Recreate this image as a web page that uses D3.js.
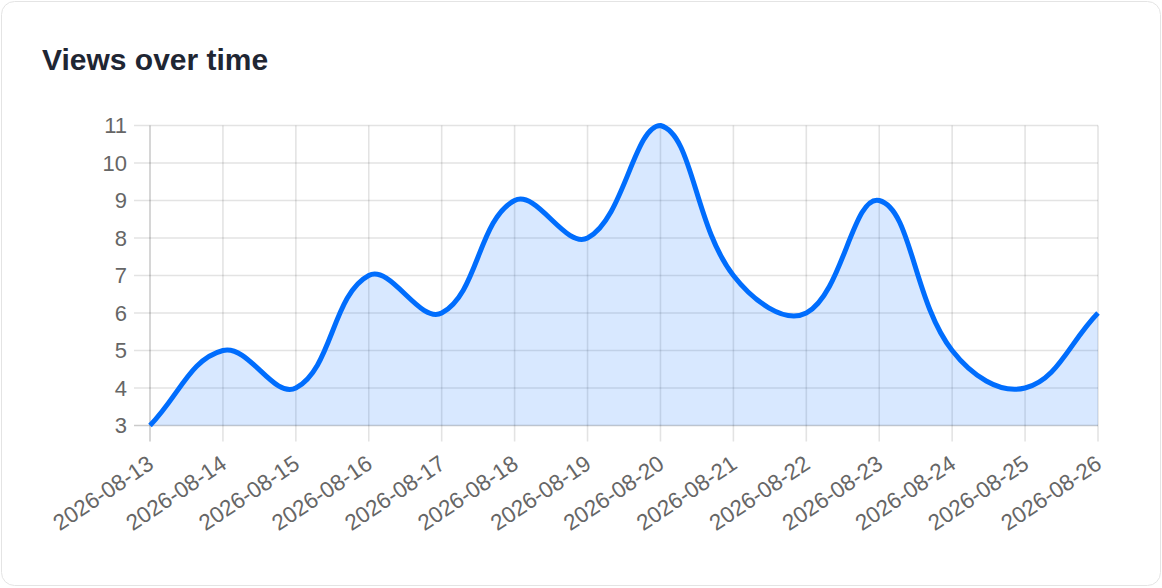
<!DOCTYPE html>
<html>
<head>
<meta charset="utf-8">
<script src="https://cdn.jsdelivr.net/npm/d3@7"></script>
<style>
  html, body { margin: 0; padding: 0; background: #ffffff; }
  svg { display: block; font-family: "Liberation Sans", Arial, sans-serif; }
</style>
</head>
<body>
<svg id="chart"></svg>
<script>
const dates = [
  "2026-08-13", "2026-08-14", "2026-08-15", "2026-08-16", "2026-08-17",
  "2026-08-18", "2026-08-19", "2026-08-20", "2026-08-21", "2026-08-22",
  "2026-08-23", "2026-08-24", "2026-08-25", "2026-08-26"
];
const views = [3, 5, 4, 7, 6, 9, 8, 11, 7, 6, 9, 5, 4, 6];
const yTicks = [3, 4, 5, 6, 7, 8, 9, 10, 11];
const title = "Views over time";

const w = 1162;
const h = 588;
const plotLeft = 150;
const plotRight = 1098;
const plotTop = 125.5;
const plotBottom = 425.5;

const svg = d3.select("#chart").attr("width", w).attr("height", h);

// card
svg
  .append("rect")
  .attr("x", 1.5)
  .attr("y", 1.5)
  .attr("width", w - 3)
  .attr("height", h - 4)
  .attr("rx", 13)
  .attr("fill", "#fff")
  .attr("stroke", "#e4e4e4");

svg
  .append("text")
  .attr("x", 42)
  .attr("y", 70)
  .attr("font-size", "30px")
  .attr("font-weight", "bold")
  .attr("fill", "#1f2633")
  .text(title);

const xScale = d3.scalePoint().domain(dates).range([plotLeft, plotRight]);
const yScale = d3.scaleLinear().domain([3, 11]).range([plotBottom, plotTop]);

// spline like the chart library's tension curve, control points kept inside the plot
const splineCurve = (tension, area) => (context) => {
  let pts = [];
  let line = NaN;
  return {
    areaStart() { line = 0; },
    areaEnd() { line = NaN; },
    lineStart() { pts = []; },
    point(x, y) { pts.push([+x, +y]); },
    lineEnd() {
      const n = pts.length;
      if (n) {
        const cpPrev = [];
        const cpNext = [];
        const clampX = (v) => Math.max(area[0], Math.min(area[1], v));
        const clampY = (v) => Math.max(area[2], Math.min(area[3], v));
        for (let i = 0; i < n; i++) {
          const cur = pts[i];
          const prev = pts[i - 1] || cur;
          const next = pts[i + 1] || cur;
          const d01 = Math.hypot(cur[0] - prev[0], cur[1] - prev[1]);
          const d12 = Math.hypot(next[0] - cur[0], next[1] - cur[1]);
          let s01 = d01 / (d01 + d12);
          let s12 = d12 / (d01 + d12);
          if (isNaN(s01)) s01 = 0;
          if (isNaN(s12)) s12 = 0;
          const fa = tension * s01;
          const fb = tension * s12;
          cpPrev.push([
            clampX(cur[0] - fa * (next[0] - prev[0])),
            clampY(cur[1] - fa * (next[1] - prev[1])),
          ]);
          cpNext.push([
            clampX(cur[0] + fb * (next[0] - prev[0])),
            clampY(cur[1] + fb * (next[1] - prev[1])),
          ]);
        }
        if (line) context.lineTo(pts[0][0], pts[0][1]);
        else context.moveTo(pts[0][0], pts[0][1]);
        for (let i = 1; i < n; i++) {
          context.bezierCurveTo(
            cpNext[i - 1][0], cpNext[i - 1][1],
            cpPrev[i][0], cpPrev[i][1],
            pts[i][0], pts[i][1]
          );
        }
      }
      if (line || (line !== 0 && n === 1)) context.closePath();
      line = 1 - line;
    },
  };
};

const curve = splineCurve(0.4, [plotLeft, plotRight, plotTop, plotBottom]);

// grid
const grid = svg
  .append("g")
  .attr("stroke", "rgba(0,0,0,0.11)")
  .attr("stroke-width", 1.6);
grid
  .selectAll("line.h")
  .data(yTicks)
  .enter()
  .append("line")
  .attr("x1", plotLeft - 16)
  .attr("x2", plotRight)
  .attr("y1", (d) => yScale(d))
  .attr("y2", (d) => yScale(d));
grid
  .selectAll("line.v")
  .data(dates)
  .enter()
  .append("line")
  .attr("x1", (d) => xScale(d))
  .attr("x2", (d) => xScale(d))
  .attr("y1", plotTop)
  .attr("y2", plotBottom + 16);

// axis borders
svg
  .append("line")
  .attr("x1", plotLeft)
  .attr("x2", plotLeft)
  .attr("y1", plotTop)
  .attr("y2", plotBottom + 16)
  .attr("stroke", "rgba(0,0,0,0.1)")
  .attr("stroke-width", 1.6);
svg
  .append("line")
  .attr("x1", plotLeft - 16)
  .attr("x2", plotRight)
  .attr("y1", plotBottom)
  .attr("y2", plotBottom)
  .attr("stroke", "rgba(0,0,0,0.1)")
  .attr("stroke-width", 1.6);

const series = dates.map((d, i) => [d, views[i]]);

svg
  .append("path")
  .datum(series)
  .attr("fill", "rgba(13,110,253,0.16)")
  .attr("d", d3.area()
    .x((d) => xScale(d[0]))
    .y0(plotBottom)
    .y1((d) => yScale(d[1]))
    .curve(curve));

svg
  .append("path")
  .datum(series)
  .attr("fill", "none")
  .attr("stroke", "#006dfd")
  .attr("stroke-width", 5)
  .attr("stroke-linejoin", "round")
  .attr("d", d3.line()
    .x((d) => xScale(d[0]))
    .y((d) => yScale(d[1]))
    .curve(curve));

// y tick labels
svg
  .append("g")
  .selectAll("text")
  .data(yTicks)
  .enter()
  .append("text")
  .attr("x", 127)
  .attr("y", (d) => yScale(d))
  .attr("text-anchor", "end")
  .attr("dominant-baseline", "central")
  .attr("font-size", "22px")
  .attr("fill", "#666")
  .text((d) => d);

// x tick labels
svg
  .append("g")
  .selectAll("text")
  .data(dates)
  .enter()
  .append("text")
  .attr("transform", (d) => "translate(" + (xScale(d) + 1) + "," + 461 + ") rotate(-34)")
  .attr("text-anchor", "end")
  .attr("dominant-baseline", "central")
  .attr("font-size", "22.5px")
  .attr("fill", "#666")
  .text((d) => d);
</script>
</body>
</html>
